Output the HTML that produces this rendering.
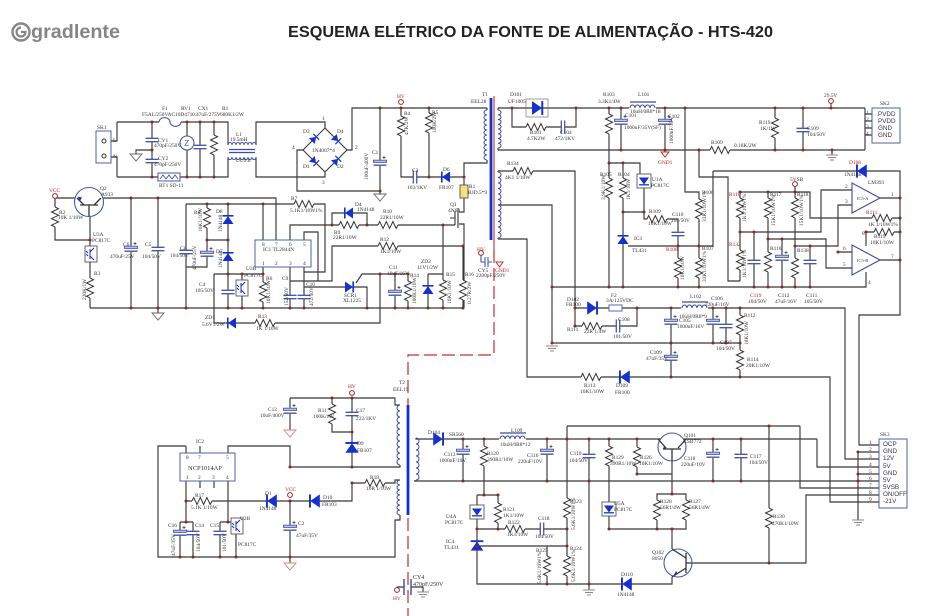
<!DOCTYPE html>
<html><head><meta charset="utf-8"><style>
html,body{margin:0;padding:0;background:#fff}
svg{display:block}
text{font-family:"Liberation Serif",serif;font-size:5.4px;fill:#333}
.r{fill:#b02020}
.s{font-family:"Liberation Sans",sans-serif;font-size:6.3px;fill:#334}
</style></head><body>
<svg width="930" height="616" viewBox="0 0 930 616" xmlns="http://www.w3.org/2000/svg">
<defs>
<g id="rv"><rect x="-4.5" y="0" width="9" height="20" fill="#fff"/><path d="M0 0l3.5 1.7-7 3.3 7 3.3-7 3.3 7 3.3-7 3.3 3.5 1.7" fill="none" stroke="#333" stroke-width="1"/></g>
<g id="rh"><rect x="0" y="-4.5" width="20" height="9" fill="#fff"/><path d="M0 0l1.7-3.5 3.3 7 3.3-7 3.3 7 3.3-7 3.3 7 1.7-3.5" fill="none" stroke="#333" stroke-width="1"/></g>
<g id="cv"><rect x="-6.5" y="-1.7" width="13" height="3.4" fill="#fff"/><path d="M-6.5-1.7h13M-6.5 1.7h13" stroke="#4858a8" stroke-width="1.3"/></g>
<g id="ch"><rect x="-1.7" y="-6.5" width="3.4" height="13" fill="#fff"/><path d="M-1.7-6.5v13M1.7-6.5v13" stroke="#4858a8" stroke-width="1.3"/></g>
<g id="ev"><rect x="-6.5" y="-2.8" width="13" height="5.6" fill="#fff"/><rect x="-6.5" y="-2.8" width="13" height="2.2" fill="#c0c8ee" stroke="#4858a8" stroke-width=".9"/><path d="M-6.5 2.2h13" stroke="#4858a8" stroke-width="1.4"/><path d="M4-7v3M2.5-5.5h3" stroke="#333" stroke-width=".7"/></g>
<g id="dd"><path d="M-5.5-4h11l-5.5 8z" fill="#1530d0"/><path d="M-5.5 4.2h11" stroke="#1530d0" stroke-width="1.6"/></g>
<g id="gt"><path d="M-6 0h12l-6 7z" fill="#fff" stroke="#666" stroke-width=".9"/></g>
<g id="gs"><path d="M-6 0h12l-6 7z" fill="#fff" stroke="#e08070" stroke-width=".9"/></g>
<g id="gb"><path d="M-6 0h12M-4 2.5h8M-2 5h4" stroke="#888" stroke-width="1.1"/></g>
<g id="opto"><rect x="-7" y="-7" width="14" height="14" fill="#fff" stroke="#555" stroke-width=".9"/><path d="M-5-3.5h10l-5 7z" fill="#1530d0"/><path d="M-5 3.8h10" stroke="#1530d0" stroke-width="1.3"/></g>
<g id="optt"><rect x="-6" y="-8" width="12" height="16" fill="#fff" stroke="#555" stroke-width=".9"/><path d="M-1-5v10M-1-2l4-4M-1 2l4 4M-5-3l2 2M-5 0l2 2" fill="none" stroke="#1530d0" stroke-width="1"/></g>
</defs>

<!-- header -->
<circle cx="21" cy="32" r="8.5" fill="none" stroke="#858585" stroke-width="2.4"/>
<path d="M21 27.5a4.5 4.5 0 1 0 4.5 4.5h-4.5" fill="none" stroke="#858585" stroke-width="2.2"/>
<text x="31" y="38" textLength="89" lengthAdjust="spacingAndGlyphs" style="font-family:'Liberation Sans',sans-serif;font-size:19px;font-weight:bold;fill:#858585">gradlente</text>
<text x="288" y="37" textLength="485" lengthAdjust="spacingAndGlyphs" style="font-family:'Liberation Sans',sans-serif;font-size:15.5px;font-weight:bold;fill:#222">ESQUEMA ELÉTRICO DA FONTE DE ALIMENTAÇÃO - HTS-420</text>

<!-- red isolation line -->
<path d="M494 96V250" stroke="#c03030" stroke-width="1.1" fill="none"/>
<path d="M494 250V355H408V405M408 518V616" stroke="#c03030" stroke-width="1.2" fill="none" stroke-dasharray="13 5"/>

<!-- wires -->
<path fill="none" stroke="#383838" stroke-width="1.15" d="
M117 122H228V145M256 145V122H325V128M117 177H228V157M256 157V177H325V172M117 122V141H111M117 177V157H111
M152 122V177M187 122V177M200 122V177M214 122V177M152 150H136V154
M347 150H352V108H487M303 150H297V191H380V108M380 191V194
M401 108V177H464M429 108V177M464 177V163H484M464 177V212H459M459 224H464V308M487 108V110M484 163H487V160
M55 198H76M103 198H276V240M55 198V240H90V247M90 216V240M90 262V308M90 308H464
M131 198V308M158 198V308M158 308V313M186 204V308M186 204H263V240M207 204V267H186M207 240H228M228 204V308
M214 274H263V267M214 274V323H380V274M242 274V281M242 296V308M263 274V308
M290 240V225H455M332 225V213H367V225M263 204H325V272H304V267M304 240V232H318V281M290 267V308M304 272V308
M290 281H332V246H463M304 287H367V308M356 283L362 274H408V308M395 274V308M428 274H443M428 274V308M443 225V308M463 246V308
M498 108V110M498 148V150M498 108H865M512 108V127H576V108M609 108V287M609 163H640V176M623 163V287
M644 186V212H623M644 212V219H678V246M628 246H713V171M621 108V150M665 108V150M685 108V192H699V287M678 246V287
M775 108V150M803 108V150M865 108V150M865 114H872M865 121H872M865 128H872M865 135H872M498 150H865M832 150V155
M699 150V177H728V281H740M498 171V172M498 238V239M498 171H575V326M498 205H552V343M498 239H527V377H830V502H879
M552 287H866V272M740 192V281M740 192H810V218H900M795 186V287M768 192V287M740 232H821V190H852M768 239H826V268H852
M795 246H838V205H852M838 252H852M754 232V287M782 239V287M810 246V287M880 198H900M880 260H900M866 232H900M866 232V246
M713 171H900V315H859V445H879M575 308H845V459H879M575 326H637V308M552 343H740M671 308V377M713 308V343M726 308V343M740 308V377
M817 439V467H879M414 481H879M858 452V520M858 452H879M858 474H879M800 426V488H879
M186 446H158V557H395V520H400V515M186 446V453M228 453V446H290V467H400V465M200 446V453M290 398H395V405H400M290 398V430
M332 398V432H352M352 398V467M352 483H395V480H400M352 483V501H186V522M186 481V501M228 481V522M180 522H193M180 522V557M193 522V557
M220 522H236M220 522V557M236 533V557M290 501V563M200 481V488M214 481V488
M416 438V439H817M416 480V481M463 439V481M547 439V481M589 439V590M713 439V481M741 439V481M484 439V495
M477 495H498V529M477 495V505M477 519V584H672V577M477 529H567M480 546H567M567 426V584M547 546V584M567 426H800M769 426V563
M637 439V474H672V461M609 439V505M609 514V529H657M657 494H686V529H657ZM672 461V494M672 529V549M692 563H806V495H879
M397 587H404M411 587H423V592
"/>

<!-- transformer cores -->
<path d="M491 98V240M408 405V515" stroke="#1530d0" stroke-width="2.8"/>
<!-- coils -->
<g fill="none" stroke="#3a4aa0" stroke-width="1">
<path d="M487 110a3 2.5 0 0 0 0 5a3 2.5 0 0 0 0 5a3 2.5 0 0 0 0 5a3 2.5 0 0 0 0 5a3 2.5 0 0 0 0 5a3 2.5 0 0 0 0 5a3 2.5 0 0 0 0 5a3 2.5 0 0 0 0 5a3 2.5 0 0 0 0 5a3 2.5 0 0 0 0 5"/>
<path d="M498 110a3 2.375 0 0 1 0 4.75a3 2.375 0 0 1 0 4.75a3 2.375 0 0 1 0 4.75a3 2.375 0 0 1 0 4.75a3 2.375 0 0 1 0 4.75a3 2.375 0 0 1 0 4.75a3 2.375 0 0 1 0 4.75a3 2.375 0 0 1 0 4.75"/>
<path d="M498 172a3 2.75 0 0 1 0 5.5a3 2.75 0 0 1 0 5.5a3 2.75 0 0 1 0 5.5a3 2.75 0 0 1 0 5.5a3 2.75 0 0 1 0 5.5a3 2.75 0 0 1 0 5.5a3 2.75 0 0 1 0 5.5a3 2.75 0 0 1 0 5.5a3 2.75 0 0 1 0 5.5a3 2.75 0 0 1 0 5.5a3 2.75 0 0 1 0 5.5a3 2.75 0 0 1 0 5.5"/>
<path d="M400 405a3 3 0 0 0 0 6a3 3 0 0 0 0 6a3 3 0 0 0 0 6a3 3 0 0 0 0 6a3 3 0 0 0 0 6a3 3 0 0 0 0 6a3 3 0 0 0 0 6a3 3 0 0 0 0 6a3 3 0 0 0 0 6a3 3 0 0 0 0 6"/>
<path d="M400 480a3 2.5 0 0 0 0 5a3 2.5 0 0 0 0 5a3 2.5 0 0 0 0 5a3 2.5 0 0 0 0 5a3 2.5 0 0 0 0 5a3 2.5 0 0 0 0 5a3 2.5 0 0 0 0 5"/>
<path d="M416 438a3 3 0 0 1 0 6a3 3 0 0 1 0 6a3 3 0 0 1 0 6a3 3 0 0 1 0 6a3 3 0 0 1 0 6a3 3 0 0 1 0 6a3 3 0 0 1 0 6"/>
<path d="M228 145a2 2.5 0 0 1 4 0a2 2.5 0 0 1 4 0a2 2.5 0 0 1 4 0a2 2.5 0 0 1 4 0a2 2.5 0 0 1 4 0a2 2.5 0 0 1 4 0a2 2.5 0 0 1 4 0"/>
<path d="M228 157a2 2.5 0 0 0 4 0a2 2.5 0 0 0 4 0a2 2.5 0 0 0 4 0a2 2.5 0 0 0 4 0a2 2.5 0 0 0 4 0a2 2.5 0 0 0 4 0a2 2.5 0 0 0 4 0"/>
</g>
<path d="M229 149.5H255M229 152.5H255M630 102H656M682 302H708M500 433H526" stroke="#3a4aa0" stroke-width="1.2"/>
<rect x="629" y="106" width="27" height="3" fill="#fff"/><rect x="681" y="306" width="27" height="3" fill="#fff"/><rect x="499" y="437" width="27" height="3" fill="#fff"/>
<g fill="none" stroke="#3a4aa0" stroke-width="1">
<path d="M630 108a2.5 3 0 0 1 5 0a2.5 3 0 0 1 5 0a2.5 3 0 0 1 5 0a2.5 3 0 0 1 5 0a2.5 3 0 0 1 5 0"/>
<path d="M682 308a2.5 3 0 0 1 5 0a2.5 3 0 0 1 5 0a2.5 3 0 0 1 5 0a2.5 3 0 0 1 5 0a2.5 3 0 0 1 5 0"/>
<path d="M500 439a2.5 3 0 0 1 5 0a2.5 3 0 0 1 5 0a2.5 3 0 0 1 5 0a2.5 3 0 0 1 5 0a2.5 3 0 0 1 5 0"/>
</g>

<!-- input section parts -->
<rect x="96" y="131" width="15" height="32" fill="#fff" stroke="#5060a0" stroke-width="1"/>
<circle cx="104" cy="141" r="2" fill="none" stroke="#333"/><circle cx="104" cy="156" r="2" fill="none" stroke="#333"/>
<rect x="159" y="118" width="22" height="6" fill="#fff"/><path d="M159 122a5 4 0 0 1 11 0a5 4 0 0 0 11 0" fill="none" stroke="#4858a8" stroke-width="1.1"/>
<use href="#cv" x="152" y="140"/><use href="#cv" x="152" y="161"/><use href="#gt" x="136" y="154"/>
<circle cx="187" cy="143" r="7" fill="#fff" stroke="#4858a8" stroke-width="1.1"/><text x="184.3" y="146" style="font-size:8px;fill:#4858a8;font-family:'Liberation Sans',sans-serif">Z</text>
<use href="#cv" x="200" y="147"/><use href="#rv" x="214" y="135"/>
<rect x="158" y="173" width="22" height="8" fill="#fff" stroke="#4858a8" stroke-width="1"/><path d="M160 179l3-4 3 4 3-4 3 4 3-4 3 4" fill="none" stroke="#4858a8" stroke-width=".9"/>
<path d="M325 128L347 150L325 172L303 150Z" fill="none" stroke="#383838" stroke-width="1.1"/>
<use href="#dd" transform="translate(314,139) rotate(-135) scale(.75)"/><use href="#dd" transform="translate(336,139) rotate(-45) scale(.75)"/>
<use href="#dd" transform="translate(314,161) rotate(-45) scale(.75)"/><use href="#dd" transform="translate(336,161) rotate(-135) scale(.75)"/>
<use href="#ev" x="380" y="163"/><use href="#gt" x="380" y="194"/>
<use href="#rv" x="401" y="116"/><use href="#rv" x="429" y="113"/><use href="#ch" x="415" y="177"/>
<use href="#dd" transform="translate(446,177) rotate(90)"/>
<rect x="460" y="185" width="8" height="13" fill="#f5e27a" stroke="#555" stroke-width=".9"/>
<path d="M458 208V228M455 211V225M450 218H455" stroke="#333" stroke-width="1.1" fill="none"/>
<circle cx="401" cy="102" r="2.4" fill="#fff" stroke="#a02020" stroke-width="1"/>

<!-- control section parts -->
<circle cx="55" cy="196" r="2.4" fill="#fff" stroke="#a02020" stroke-width="1"/>
<circle cx="89" cy="202" r="14.5" fill="#fff" stroke="#4858a8" stroke-width="1.1"/>
<path d="M80 205H98M84 205L77 198M94 205L101 198M89 205V216" stroke="#333" stroke-width="1.3" fill="none"/>
<path d="M80 201l-2.5-4.5 4.5 1z" fill="#1530d0"/>
<use href="#rv" x="55" y="207"/><use href="#optt" x="91" y="254"/><use href="#rv" x="90" y="278"/>
<use href="#ev" x="131" y="249"/><use href="#cv" x="158" y="249"/><use href="#gt" x="158" y="313"/>
<use href="#cv" x="186" y="252"/><use href="#rv" x="207" y="208"/><use href="#ev" x="207" y="254"/>
<use href="#dd" transform="translate(228,220) rotate(180)"/><use href="#dd" transform="translate(228,257) rotate(180)"/>
<use href="#cv" x="228" y="292"/><use href="#optt" x="242" y="288"/><use href="#rv" x="263" y="282"/>
<rect x="255" y="240" width="56" height="27" fill="#fff" stroke="#5060a8" stroke-width="1"/>
<use href="#rh" x="294" y="204"/><use href="#dd" transform="translate(349,213) rotate(90)"/><use href="#rh" x="339" y="225"/><use href="#rh" x="378" y="225"/>
<use href="#rh" x="378" y="246"/><use href="#cv" x="290" y="297"/><use href="#cv" x="304" y="297"/>
<use href="#dd" transform="translate(349,287) rotate(-90)"/>
<use href="#ev" x="395" y="293"/><use href="#rv" x="408" y="281"/><use href="#dd" transform="translate(428,290) rotate(180)"/>
<use href="#rv" x="443" y="280"/><use href="#rv" x="463" y="280"/>
<use href="#dd" transform="translate(232,323) rotate(90)"/><use href="#rh" x="255" y="323"/>

<!-- T1 secondary parts -->
<rect x="526" y="99" width="22" height="18" fill="none" stroke="#777" stroke-width=".7"/>
<use href="#dd" transform="translate(537,108) rotate(-90) scale(1.25)"/>
<use href="#rh" x="526" y="127"/><use href="#ch" x="563" y="127"/>
<use href="#rv" x="609" y="114"/><use href="#ev" x="621" y="122"/><use href="#ev" x="665" y="122"/>
<path d="M661 152h8l-4 5z" fill="none" stroke="#c03030"/>
<use href="#rv" x="775" y="118"/><use href="#cv" x="803" y="130"/><use href="#gb" x="832" y="155"/>
<circle cx="831" cy="101" r="2.4" fill="#fff" stroke="#a02020" stroke-width="1"/><path d="M831 103V108" stroke="#333"/>
<rect x="872" y="108" width="28" height="35" fill="#fff" stroke="#5060a0" stroke-width="1"/>
<use href="#rh" x="710" y="150"/><use href="#rh" x="513" y="171"/>
<use href="#rv" x="609" y="178"/><use href="#rv" x="623" y="178"/><use href="#opto" x="644" y="181"/>
<use href="#dd" transform="translate(623,240) rotate(180)"/>
<use href="#rh" x="647" y="219"/><use href="#cv" x="678" y="234"/>
<use href="#rv" x="678" y="258"/><use href="#rv" x="699" y="258"/><use href="#rv" x="699" y="199"/>
<use href="#rv" x="740" y="198"/><use href="#rv" x="740" y="250"/><use href="#rv" x="768" y="198"/><use href="#rv" x="768" y="252"/>
<use href="#rv" x="795" y="198"/><use href="#rv" x="795" y="258"/>
<use href="#cv" x="754" y="262"/><use href="#ev" x="782" y="258"/><use href="#cv" x="810" y="262"/>
<circle cx="795" cy="184" r="2.4" fill="#fff" stroke="#a02020" stroke-width="1"/>
<path d="M852 183V213L880 198Z M852 245V275L880 260Z" fill="#fff" stroke="#3a4aa0" stroke-width="1.1"/>
<use href="#rh" x="872" y="218"/><use href="#rh" x="874" y="232"/>
<use href="#dd" transform="translate(862,171) rotate(90) scale(1.2)"/>
<use href="#dd" transform="translate(592,308) rotate(-90) scale(1.2)"/>
<rect x="609" y="305" width="13" height="6" fill="#fff" stroke="#4858a8" stroke-width=".9"/>
<use href="#rh" x="582" y="326"/><use href="#ch" x="618" y="326"/>
<use href="#ev" x="671" y="322"/><use href="#ev" x="713" y="322"/><use href="#cv" x="726" y="326"/>
<use href="#rv" x="740" y="315"/><use href="#rv" x="740" y="350"/><use href="#ev" x="671" y="358"/>
<use href="#rh" x="581" y="377"/><use href="#dd" transform="translate(625,377) rotate(90) scale(1.2)"/>
<use href="#gb" x="552" y="346"/>
<circle cx="481" cy="253" r="2.4" fill="#fff" stroke="#a02020" stroke-width="1"/>
<path d="M481 255V262H485M488 262H492M485 257V267M488 257V267" stroke="#4858a8" stroke-width="1.1" fill="none"/>
<path d="M496 262h7l-3.5 5z" fill="none" stroke="#c03030"/>

<!-- SK3 -->
<rect x="879" y="439" width="28" height="69" fill="#fff" stroke="#5060a0" stroke-width="1"/>
<use href="#gb" x="858" y="520"/>

<!-- bottom left parts -->
<rect x="180" y="453" width="55" height="28" fill="#fff" stroke="#5060a8" stroke-width="1"/>
<use href="#ev" x="290" y="411"/><use href="#gs" x="290" y="430"/>
<use href="#rv" x="332" y="404"/><use href="#cv" x="352" y="414"/><use href="#dd" transform="translate(352,448) rotate(180) scale(1.2)"/>
<circle cx="352" cy="393" r="2.4" fill="#fff" stroke="#a02020" stroke-width="1"/>
<use href="#rh" x="365" y="483"/><use href="#rh" x="192" y="501"/>
<use href="#dd" transform="translate(272,501) rotate(90) scale(1.2)"/><use href="#dd" transform="translate(315,501) rotate(90) scale(1.2)"/>
<circle cx="290" cy="495" r="2.4" fill="#fff" stroke="#a02020" stroke-width="1"/>
<use href="#ev" x="180" y="533"/><use href="#cv" x="193" y="533"/><use href="#cv" x="220" y="533"/><use href="#optt" x="237" y="526"/>
<use href="#ev" x="290" y="528"/><use href="#gs" x="290" y="563"/>
<path d="M404 579V595M411 579V595" stroke="#3a4aa0" stroke-width="1.4"/>
<circle cx="397" cy="590" r="2.4" fill="#fff" stroke="#a02020" stroke-width="1"/>
<use href="#gb" x="423" y="592"/>

<!-- bottom right parts -->
<use href="#dd" transform="translate(438,439) rotate(-90) scale(1.2)"/>
<use href="#ev" x="463" y="452"/><use href="#ev" x="547" y="452"/><use href="#cv" x="589" y="456"/><use href="#ev" x="713" y="455"/><use href="#cv" x="741" y="456"/>
<use href="#rv" x="484" y="446"/><use href="#rv" x="498" y="503"/><use href="#opto" x="477" y="512"/>
<use href="#dd" transform="translate(477,546) rotate(180) scale(1.15)"/>
<use href="#rh" x="505" y="529"/><use href="#ch" x="542" y="529"/>
<use href="#rv" x="567" y="498"/><use href="#rv" x="567" y="556"/><use href="#rv" x="547" y="556"/>
<use href="#gb" x="589" y="590"/>
<use href="#dd" transform="translate(627,584) rotate(90) scale(1.2)"/>
<use href="#rv" x="609" y="446"/><use href="#rv" x="637" y="447"/><use href="#opto" x="609" y="509"/>
<use href="#rv" x="657" y="500"/><use href="#rv" x="686" y="500"/><use href="#rv" x="769" y="508"/>
<circle cx="672" cy="447" r="14" fill="#fff" stroke="#4858a8" stroke-width="1.1"/>
<path d="M658 439L666 448M686 439L678 448M663 449H681M672 449V461" stroke="#333" stroke-width="1.3" fill="none"/>
<path d="M664 446l3 3-4 0z" fill="#1530d0"/>
<circle cx="678" cy="563" r="14" fill="#fff" stroke="#4858a8" stroke-width="1.1"/>
<path d="M672 549L686 558M686 553V573M686 568L672 577M686 563H692" stroke="#333" stroke-width="1.3" fill="none"/>
<path d="M674 575l4-1-2-3z" fill="#1530d0"/>

<!-- junctions -->
<g fill="#8a2525">
<circle cx="152" cy="122" r="1.5"/><circle cx="187" cy="122" r="1.5"/><circle cx="200" cy="122" r="1.5"/><circle cx="214" cy="122" r="1.5"/>
<circle cx="152" cy="177" r="1.5"/><circle cx="187" cy="177" r="1.5"/><circle cx="200" cy="177" r="1.5"/><circle cx="214" cy="177" r="1.5"/><circle cx="152" cy="150" r="1.5"/>
<circle cx="380" cy="108" r="1.5"/><circle cx="401" cy="108" r="1.5"/><circle cx="429" cy="108" r="1.5"/><circle cx="380" cy="191" r="1.5"/><circle cx="429" cy="177" r="1.5"/><circle cx="464" cy="177" r="1.5"/>
<circle cx="131" cy="198" r="1.5"/><circle cx="158" cy="198" r="1.5"/><circle cx="131" cy="308" r="1.5"/><circle cx="158" cy="308" r="1.5"/><circle cx="186" cy="308" r="1.5"/>
<circle cx="207" cy="204" r="1.5"/><circle cx="228" cy="204" r="1.5"/><circle cx="263" cy="204" r="1.5"/><circle cx="207" cy="240" r="1.5"/><circle cx="228" cy="240" r="1.5"/>
<circle cx="228" cy="274" r="1.5"/><circle cx="242" cy="274" r="1.5"/><circle cx="263" cy="274" r="1.5"/><circle cx="228" cy="308" r="1.5"/><circle cx="242" cy="308" r="1.5"/>
<circle cx="263" cy="308" r="1.5"/><circle cx="290" cy="308" r="1.5"/><circle cx="304" cy="308" r="1.5"/><circle cx="332" cy="225" r="1.5"/><circle cx="367" cy="225" r="1.5"/>
<circle cx="443" cy="225" r="1.5"/><circle cx="395" cy="274" r="1.5"/><circle cx="408" cy="274" r="1.5"/><circle cx="380" cy="274" r="1.5"/><circle cx="367" cy="308" r="1.5"/>
<circle cx="395" cy="308" r="1.5"/><circle cx="408" cy="308" r="1.5"/><circle cx="428" cy="308" r="1.5"/><circle cx="443" cy="308" r="1.5"/><circle cx="463" cy="308" r="1.5"/><circle cx="463" cy="246" r="1.5"/><circle cx="90" cy="240" r="1.5"/>
<circle cx="512" cy="108" r="1.5"/><circle cx="576" cy="108" r="1.5"/><circle cx="609" cy="108" r="1.5"/><circle cx="621" cy="108" r="1.5"/><circle cx="665" cy="108" r="1.5"/><circle cx="685" cy="108" r="1.5"/>
<circle cx="775" cy="108" r="1.5"/><circle cx="803" cy="108" r="1.5"/><circle cx="831" cy="108" r="1.5"/><circle cx="621" cy="150" r="1.5"/><circle cx="665" cy="150" r="1.5"/><circle cx="699" cy="150" r="1.5"/>
<circle cx="775" cy="150" r="1.5"/><circle cx="803" cy="150" r="1.5"/><circle cx="832" cy="150" r="1.5"/><circle cx="609" cy="163" r="1.5"/><circle cx="623" cy="163" r="1.5"/><circle cx="623" cy="212" r="1.5"/><circle cx="644" cy="212" r="1.5"/>
<circle cx="678" cy="246" r="1.5"/><circle cx="699" cy="246" r="1.5"/><circle cx="609" cy="287" r="1.5"/><circle cx="623" cy="287" r="1.5"/><circle cx="678" cy="287" r="1.5"/><circle cx="699" cy="287" r="1.5"/>
<circle cx="754" cy="287" r="1.5"/><circle cx="768" cy="287" r="1.5"/><circle cx="782" cy="287" r="1.5"/><circle cx="795" cy="287" r="1.5"/><circle cx="810" cy="287" r="1.5"/><circle cx="552" cy="287" r="1.5"/><circle cx="552" cy="343" r="1.5"/>
<circle cx="740" cy="192" r="1.5"/><circle cx="768" cy="192" r="1.5"/><circle cx="795" cy="192" r="1.5"/><circle cx="740" cy="232" r="1.5"/><circle cx="754" cy="232" r="1.5"/><circle cx="768" cy="239" r="1.5"/>
<circle cx="782" cy="239" r="1.5"/><circle cx="795" cy="246" r="1.5"/><circle cx="810" cy="246" r="1.5"/><circle cx="838" cy="252" r="1.5"/><circle cx="900" cy="198" r="1.5"/><circle cx="900" cy="218" r="1.5"/>
<circle cx="900" cy="232" r="1.5"/><circle cx="900" cy="260" r="1.5"/><circle cx="866" cy="232" r="1.5"/><circle cx="575" cy="308" r="1.5"/><circle cx="637" cy="308" r="1.5"/><circle cx="671" cy="308" r="1.5"/>
<circle cx="713" cy="308" r="1.5"/><circle cx="726" cy="308" r="1.5"/><circle cx="740" cy="308" r="1.5"/><circle cx="671" cy="343" r="1.5"/><circle cx="713" cy="343" r="1.5"/><circle cx="726" cy="343" r="1.5"/>
<circle cx="740" cy="343" r="1.5"/><circle cx="671" cy="377" r="1.5"/><circle cx="740" cy="377" r="1.5"/><circle cx="575" cy="326" r="1.5"/>
<circle cx="186" cy="501" r="1.5"/><circle cx="186" cy="522" r="1.5"/><circle cx="228" cy="522" r="1.5"/><circle cx="180" cy="557" r="1.5"/><circle cx="193" cy="557" r="1.5"/><circle cx="220" cy="557" r="1.5"/>
<circle cx="236" cy="557" r="1.5"/><circle cx="290" cy="557" r="1.5"/><circle cx="290" cy="501" r="1.5"/><circle cx="290" cy="467" r="1.5"/><circle cx="332" cy="398" r="1.5"/><circle cx="352" cy="398" r="1.5"/>
<circle cx="352" cy="432" r="1.5"/><circle cx="352" cy="467" r="1.5"/><circle cx="352" cy="483" r="1.5"/>
<circle cx="463" cy="439" r="1.5"/><circle cx="484" cy="439" r="1.5"/><circle cx="547" cy="439" r="1.5"/><circle cx="567" cy="439" r="1.5"/><circle cx="589" cy="439" r="1.5"/><circle cx="609" cy="439" r="1.5"/>
<circle cx="637" cy="439" r="1.5"/><circle cx="713" cy="439" r="1.5"/><circle cx="741" cy="439" r="1.5"/><circle cx="463" cy="481" r="1.5"/><circle cx="547" cy="481" r="1.5"/><circle cx="589" cy="481" r="1.5"/>
<circle cx="713" cy="481" r="1.5"/><circle cx="741" cy="481" r="1.5"/><circle cx="858" cy="481" r="1.5"/><circle cx="484" cy="495" r="1.5"/><circle cx="498" cy="495" r="1.5"/><circle cx="477" cy="529" r="1.5"/>
<circle cx="498" cy="529" r="1.5"/><circle cx="567" cy="529" r="1.5"/><circle cx="477" cy="546" r="1.5"/><circle cx="567" cy="546" r="1.5"/><circle cx="547" cy="584" r="1.5"/><circle cx="567" cy="584" r="1.5"/>
<circle cx="589" cy="584" r="1.5"/><circle cx="672" cy="494" r="1.5"/><circle cx="672" cy="529" r="1.5"/><circle cx="657" cy="529" r="1.5"/><circle cx="769" cy="426" r="1.5"/><circle cx="769" cy="563" r="1.5"/>
<circle cx="637" cy="474" r="1.5"/><circle cx="858" cy="452" r="1.5"/><circle cx="858" cy="474" r="1.5"/><circle cx="609" cy="529" r="1.5"/>
</g>

<!-- labels: input -->
<text x="97" y="129">SK1</text><text x="113" y="142">L</text><text x="113" y="158">N</text>
<text x="162" y="110">F1</text><text x="142" y="116">F5AL/250VAC</text><text x="181" y="110">RV1</text><text x="175" y="116">10D471</text>
<text x="198" y="110">CX1</text><text x="192" y="116">0.47uF/275V</text><text x="222" y="110">R1</text><text x="220" y="116">680K1/2W</text>
<text x="158" y="142">CY1</text><text x="154" y="147">470pF/250V</text><text x="158" y="160">CY2</text><text x="154" y="166">470pF/250V</text>
<text x="159" y="187">RT1  SD-11</text><text x="236" y="136">L1</text><text x="230" y="141">19.5mH</text><text x="236" y="162">UU9.8</text>
<text x="303" y="133">D3</text><text x="337" y="133">D4</text><text x="303" y="168">D1</text><text x="337" y="168">D2</text><text x="312" y="152">1N4007*4</text>
<text x="322" y="120">1</text><text x="355" y="149">2</text><text x="322" y="184">3</text><text x="292" y="149">4</text>
<text x="372" y="154">C1</text><text transform="translate(368,180) rotate(-90)">100uF/400V</text>
<text x="397" y="98" class="r">HV</text><text x="404" y="115">R4</text><text transform="translate(408,135) rotate(-90)">47K/2W</text>
<text x="432" y="114">R5</text><text transform="translate(436,133) rotate(-90)">100K/2W</text>
<text x="412" y="172">C3</text><text x="407" y="189">103/1KV</text><text x="443" y="171">D6</text><text x="439" y="189">FR107</text>
<text x="469" y="188">R1</text><text x="468" y="194">RJD.5*9</text><text x="450" y="206">Q1</text><text x="448" y="212">4N60</text>
<text x="482" y="96">T1</text><text x="471" y="103">EEL28</text>

<!-- labels: control -->
<text x="49" y="192" class="r">VCC</text><text x="100" y="190">Q2</text><text x="101" y="196">A933</text>
<text x="59" y="214">R2</text><text x="58" y="219">10K 1/10W</text><text x="93" y="236">U3A</text><text x="92" y="242">PC817C</text>
<text x="94" y="275">R3</text><text transform="translate(86,300) rotate(-90)">220K/1W</text>
<text x="123" y="246">C6</text><text x="110" y="258">470uF/25V</text><text x="145" y="246">C5</text><text x="142" y="258">104/50V</text>
<text x="180" y="250">C8</text><text x="170" y="257">104/50V</text><text x="194" y="214">R8</text><text transform="translate(202,232) rotate(-90)">10K1/10W</text>
<text x="216" y="213">D8</text><text transform="translate(222,232) rotate(-90)">1N4148</text><text x="216" y="253">D7</text><text transform="translate(222,268) rotate(-90)">1N4148</text>
<text transform="translate(196,270) rotate(-90)">470uF/25V</text>
<text x="199" y="286">C4</text><text x="195" y="292">105/50V</text><text x="246" y="270">U3B</text><text x="244" y="277">PC817C</text>
<text x="266" y="280">R6</text><text transform="translate(270,304) rotate(-90)">10K1/10W</text>
<text x="291" y="200">R7</text><text x="290" y="212">5.1K1/10W1%</text>
<text x="263" y="251" style="font-size:5.5px">IC1     TL2844N</text>
<text x="262" y="246">8</text><text x="275" y="246">7</text><text x="289" y="246">6</text><text x="303" y="246">5</text>
<text x="262" y="265">1</text><text x="275" y="265">2</text><text x="289" y="265">3</text><text x="303" y="265">4</text>
<text x="355" y="206">D4</text><text x="357" y="211">1N4148</text><text x="383" y="213">R10</text><text x="380" y="219">22R1/10W</text>
<text x="334" y="234">R9</text><text x="333" y="239">22R1/10W</text><text x="380" y="241">R12</text><text x="380" y="253">1K1/10W</text>
<text x="282" y="280">C9</text><text transform="translate(288,306) rotate(-90)">152/50V</text><text x="306" y="286">C10</text><text transform="translate(313,306) rotate(-90)">472/50V</text>
<text x="344" y="297">SCR1</text><text x="343" y="302">XL1225</text><text x="389" y="269">C11</text><text x="387" y="275">10uF/16V</text>
<text x="410" y="277">R14</text><text transform="translate(416,304) rotate(-90)">100K1/10W</text>
<text x="421" y="263">ZD2</text><text x="417" y="269">11V1/2W</text><text x="446" y="276">R15</text><text transform="translate(451,304) rotate(-90)">10K1/10W</text>
<text x="465" y="276">R16</text><text transform="translate(471,304) rotate(-90)">0.27R/2W</text>
<text x="205" y="319">ZD1</text><text x="202" y="326">5.6V1/2W</text><text x="258" y="318">R13</text><text x="256" y="330">1K 1/10W</text>

<!-- labels: secondary -->
<text x="510" y="96">D101</text><text x="508" y="103">UF1005</text><text x="530" y="134">R101</text><text x="527" y="140">4.7K2W</text>
<text x="560" y="134">C104</text><text x="555" y="140">472/1KV</text><text x="603" y="96">R103</text><text x="598" y="103">3.3K1/4W</text>
<text x="638" y="96">L101</text><text x="630" y="113">10uH/0R8*18</text><text x="625" y="117">C101</text><text x="624" y="129">1000uF/35V(SF)</text>
<text x="668" y="118">C102</text><text transform="translate(673,144) rotate(-90)">1000uF/35V</text><text x="658" y="164" class="r">GND1</text>
<text x="711" y="144">R109</text><text x="734" y="147">0.18K/2W</text><text x="759" y="124">R119</text><text x="760" y="130">1K/1W</text>
<text x="807" y="130">C109</text><text x="807" y="136">104/50V</text><text x="824" y="97">29.5V</text><text x="880" y="105">SK2</text>
<text x="866" y="114">1</text><text x="866" y="121">2</text><text x="866" y="128">3</text><text x="866" y="135">4</text>
<text x="878" y="116" class="s">PVDD</text><text x="878" y="123" class="s">PVDD</text><text x="878" y="130" class="s">GND</text><text x="878" y="137" class="s">GND</text>
<text x="507" y="165">R134</text><text x="505" y="179">4K1 1/10W</text>
<text x="600" y="176">R105</text><text transform="translate(605,200) rotate(-90)">3.9K1/10W</text><text x="618" y="176">R104</text><text transform="translate(630,200) rotate(-90)">1K1/10W</text>
<text x="652" y="181">U1A</text><text x="651" y="187">PC817C</text><text x="634" y="240">IC3</text><text x="632" y="252">TL431</text>
<text x="649" y="213">R109</text><text x="648" y="225">10K1/10W</text><text x="672" y="216">C110</text><text x="671" y="222">104/50V</text>
<text x="666" y="251" class="r">R108</text><text transform="translate(684,280) rotate(-90)">10K1/10W</text>
<text x="702" y="194">R106</text><text transform="translate(706,222) rotate(-90)">33K1/10W1%</text><text x="702" y="250">R107</text><text transform="translate(706,282) rotate(-90)">33K1/10W1%</text>
<text x="729" y="196" class="r">R110</text><text transform="translate(746,222) rotate(-90)">1K1/10W1%</text>
<text x="729" y="246" class="r">R132</text><text transform="translate(746,278) rotate(-90)">1K1/10W1%</text>
<text x="770" y="196">R117</text><text transform="translate(775,226) rotate(-90)">15K1/10W1%</text><text x="770" y="250">R116</text>
<text x="797" y="196">R118</text><text transform="translate(803,226) rotate(-90)">15K1/10W1%</text><text x="797" y="252">R138</text>
<text x="750" y="297" class="r">C119</text><text x="748" y="303">104/50V</text><text x="778" y="297">C112</text><text x="775" y="303">47uF/16V</text>
<text x="806" y="297">C111</text><text x="804" y="303">105/50V</text><text x="790" y="181">5VSB</text>
<text x="868" y="184">LM393</text><text x="857" y="200" style="font-size:4.5px">IC5-A</text><text x="857" y="262" style="font-size:4.5px">IC5-B</text>
<text x="866" y="214" class="r">R111</text><text x="868" y="226">1K 1/10W1%</text><text x="874" y="238">R119</text><text x="870" y="244">10K1/10W</text>
<text x="845" y="188">2</text><text x="845" y="203">3</text><text x="891" y="196">1</text><text x="843" y="250">6</text><text x="843" y="266">5</text><text x="891" y="258">7</text><text x="868" y="284">4</text><text x="862" y="235">8</text>
<text x="849" y="164" class="r">D108</text><text x="844" y="176">1N4148</text>
<text x="567" y="301">D102</text><text x="566" y="306">FR100</text><text x="606" y="302">3A/125VDC</text><text x="611" y="297">F2</text>
<text x="567" y="331">R111</text><text x="584" y="333">22R 1/4W</text><text x="618" y="321">C108</text><text x="613" y="338">101/50V</text>
<text x="690" y="298">L102</text><text x="679" y="318">10uH/0R8*9</text><text x="711" y="300">C106</text><text x="705" y="306">220uF/16V</text>
<text x="679" y="322">C105</text><text x="677" y="328">1000uF/16V</text><text x="720" y="344">C107</text><text x="716" y="350">104/50V</text>
<text x="744" y="317">R112</text><text transform="translate(748,345) rotate(-90)">18K1/10W</text><text x="747" y="361">R114</text><text x="746" y="367">20K1/10W</text>
<text x="650" y="354">C109</text><text x="646" y="360">47uF/35V</text><text x="584" y="387">R113</text><text x="580" y="393">10K1/10W</text>
<text x="616" y="387">D109</text><text x="615" y="394">FR100</text>
<text x="477" y="251" class="r">HV</text><text x="478" y="272">CY5</text><text x="476" y="277">2200pF/250V</text><text x="495" y="272" class="r">GND1</text>

<!-- SK3 labels -->
<text x="880" y="436">SK3</text>
<text x="883" y="446" class="s">OCP</text><text x="883" y="453" class="s">GND</text><text x="883" y="460" class="s">12V</text><text x="883" y="468" class="s">5V</text><text x="883" y="475" class="s">GND</text><text x="883" y="482" class="s">5V</text><text x="883" y="489" class="s">5VSB</text><text x="883" y="496" class="s">ON/OFF</text><text x="883" y="503" class="s">-21V</text>
<text x="869" y="444">1</text><text x="869" y="451">2</text><text x="869" y="458">3</text><text x="869" y="466">4</text><text x="869" y="473">5</text><text x="869" y="480">6</text><text x="869" y="487">7</text><text x="869" y="494">8</text><text x="869" y="501">9</text>

<!-- labels: bottom left -->
<text x="196" y="443">IC2</text><text x="188" y="470" style="font-size:6.5px">NCP1014AP</text>
<text x="186" y="459">8</text><text x="198" y="459">7</text><text x="226" y="459">5</text><text x="186" y="479">1</text><text x="198" y="479">2</text><text x="212" y="479">3</text><text x="226" y="479">4</text>
<text x="268" y="411">C12</text><text x="260" y="417">10uF/400V</text><text x="318" y="412">R11</text><text x="313" y="418">100K/1W</text>
<text x="356" y="412">C17</text><text x="356" y="420">222/1KV</text><text x="357" y="445">D9</text><text x="357" y="452">FR107</text>
<text x="348" y="388" class="r">HV</text><text x="399" y="384">T2</text><text x="393" y="391">EEL19</text>
<text x="370" y="479">R18</text><text x="366" y="490">10R 1/10W</text><text x="265" y="495">D1</text><text x="259" y="510">1N4148</text>
<text x="285" y="491" class="r">VCC</text><text x="323" y="499">D10</text><text x="322" y="506">FR103</text>
<text x="195" y="497">R17</text><text x="191" y="509">5.1K 1/10W</text>
<text x="168" y="527">C16</text><text transform="translate(175,556) rotate(-90)">47uF/35V</text><text x="195" y="527">C14</text><text transform="translate(200,552) rotate(-90)">104/50V</text>
<text x="210" y="527">C15</text><text transform="translate(226,552) rotate(-90)">101/50V</text><text x="240" y="520">U2B</text><text x="238" y="546">PC817C</text>
<text x="298" y="525">C2</text><text x="296" y="537">47uF/35V</text><text x="413" y="579" style="font-size:6px">CY4</text><text x="413" y="586" style="font-size:6px">470pF/250V</text>
<text x="393" y="600" class="r">HV</text>

<!-- labels: bottom right -->
<text x="428" y="434">D104</text><text x="449" y="436">SR560</text><text x="444" y="456">C113</text><text x="439" y="462">1000uF/10V</text>
<text x="487" y="455">R120</text><text x="487" y="461">390R1/10W</text><text x="511" y="432">L109</text><text x="500" y="446">10uH/0R8*12</text>
<text x="527" y="457">C116</text><text x="518" y="463">220uF/10V</text><text x="570" y="455">C110</text><text x="569" y="462">104/50V</text>
<text x="612" y="459">R129</text><text x="610" y="465">390R1/10W</text><text x="640" y="459">R126</text><text x="639" y="465">10K1/10W</text>
<text x="684" y="437">Q101</text><text x="683" y="443">KSB772</text><text x="684" y="460">C118</text><text x="681" y="466">220uF/10V</text>
<text x="750" y="458">C117</text><text x="749" y="464">104/50V</text>
<text x="446" y="518">U4A</text><text x="445" y="524">PC817C</text><text x="503" y="511">R121</text><text x="503" y="517">1K1/10W</text>
<text x="508" y="524">R122</text><text x="507" y="536">1K1/10W</text><text x="538" y="520">C118</text><text x="535" y="538">104/50V</text>
<text x="446" y="543">IC4</text><text x="444" y="549">TL431</text>
<text x="570" y="503">R123</text><text transform="translate(575,530) rotate(-90)">5.6K1/10W1%</text>
<text x="570" y="550">R124</text><text transform="translate(575,582) rotate(-90)">5.6K1/10W1%</text>
<text x="536" y="552">R125</text><text transform="translate(541,584) rotate(-90)">5.6K1/10W1%</text>
<text x="614" y="505">U5A</text><text x="614" y="511">PC817C</text><text x="660" y="503">R128</text><text x="660" y="509">56R1/4W</text>
<text x="689" y="503">R127</text><text x="689" y="509">56R1/4W</text><text x="652" y="554">Q102</text><text x="652" y="560">8050</text>
<text x="621" y="576">D110</text><text x="617" y="596">1N4148</text><text x="773" y="518">R130</text><text x="772" y="525">470K1/10W</text>
</svg>
</body></html>
